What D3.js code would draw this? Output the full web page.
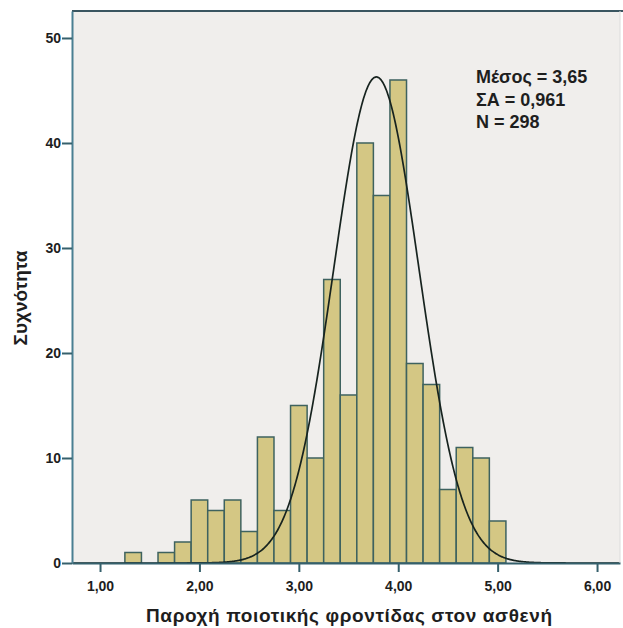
<!DOCTYPE html>
<html>
<head>
<meta charset="utf-8">
<script src="https://cdn.jsdelivr.net/npm/d3@7"></script>
<style>
  html, body { margin: 0; padding: 0; background: #ffffff; }
  svg { display: block; }
  text { font-family: "Liberation Sans", Arial, sans-serif; fill: #1e1e1e; }
</style>
</head>
<body>
<svg id="chart" width="623" height="628"></svg>
<script>
// ---- data ----
const binCenters = [1.3333, 1.5, 1.6667, 1.8333, 2.0, 2.1667, 2.3333, 2.5, 2.6667, 2.8333,
                    3.0, 3.1667, 3.3333, 3.5, 3.6667, 3.8333, 4.0, 4.1667, 4.3333, 4.5,
                    4.6667, 4.8333, 5.0];
const counts = [1, 0, 1, 2, 6, 5, 6, 3, 12, 5,
                15, 10, 27, 16, 40, 35, 46, 19, 17, 7,
                11, 10, 4];
const binWidth = 1 / 6;
const xTicks = [1, 2, 3, 4, 5, 6];
const xTickLabels = ["1,00", "2,00", "3,00", "4,00", "5,00", "6,00"];
const yTicks = [0, 10, 20, 30, 40, 50];
const statsLines = ["Μέσος = 3,65", "ΣΑ = 0,961", "N = 298"];
const curveMean = 3.78;   // normal curve as drawn
const curveSD = 0.428;
const curveN = 298;
const xTitle = "Παροχή ποιοτικής φροντίδας στον ασθενή";
const yTitle = "Συχνότητα";

// ---- layout ----
const svg = d3.select("#chart");
const L = 72, R = 620, T = 11, B = 563;

const x = d3.scaleLinear().domain([0.718, 6.231]).range([L, R]);
const y = d3.scaleLinear().domain([0, 52.57]).range([B, T]);

// plot background
svg.append("rect").attr("x", L).attr("y", T).attr("width", R - L).attr("height", B - T)
  .attr("fill", "#f0eeec");

// bars
const bins = binCenters.map((c, i) => ({ c, n: counts[i] })).filter(d => d.n > 0);
svg.append("g").selectAll("rect").data(bins).join("rect")
  .attr("x", d => x(d.c - binWidth / 2))
  .attr("width", d => x(d.c + binWidth / 2) - x(d.c - binWidth / 2))
  .attr("y", d => y(d.n))
  .attr("height", d => y(0) - y(d.n))
  .attr("fill", "#d4c784")
  .attr("stroke", "#3e625f")
  .attr("stroke-width", 1.5);

// normal curve
const pts = d3.range(0.72, 6.23, 0.01).map(v => {
  const z = (v - curveMean) / curveSD;
  return [v, curveN * binWidth * Math.exp(-0.5 * z * z) / (curveSD * Math.sqrt(2 * Math.PI))];
});
svg.append("path").datum(pts)
  .attr("fill", "none").attr("stroke", "#17231f").attr("stroke-width", 1.7)
  .attr("d", d3.line().x(d => x(d[0])).y(d => y(d[1])).curve(d3.curveBasis));

// frame (top and right)
svg.append("line").attr("x1", L).attr("x2", 623).attr("y1", T).attr("y2", T)
  .attr("stroke", "#3a5560").attr("stroke-width", 2);
svg.append("line").attr("x1", R).attr("x2", R).attr("y1", T).attr("y2", B)
  .attr("stroke", "#dcdcdc").attr("stroke-width", 1);

// axes
const xAxis = d3.axisBottom(x).tickValues(xTicks)
  .tickFormat((d, i) => xTickLabels[i]).tickSize(9).tickSizeOuter(0);
const gx = svg.append("g").attr("transform", `translate(0,${B})`).call(xAxis);
gx.select(".domain").attr("stroke", "#35606c").attr("stroke-width", 2.2);
gx.selectAll(".tick line").attr("stroke", "#35606c").attr("stroke-width", 2);
gx.selectAll(".tick text").attr("dy", "1.15em").attr("font-size", 14).attr("font-weight", "bold")
  .attr("font-family", "'Liberation Sans', Arial, sans-serif").attr("fill", "#3a3a3a");

const yAxis = d3.axisLeft(y).tickValues(yTicks).tickSize(10).tickSizeOuter(0);
const gy = svg.append("g").attr("transform", `translate(${L},0)`).call(yAxis);
gy.select(".domain").attr("stroke", "#4a7f92").attr("stroke-width", 2);
gy.selectAll(".tick line").attr("stroke", "#35606c").attr("stroke-width", 2);
gy.selectAll(".tick text").attr("x", -11).attr("font-size", 14).attr("font-weight", "bold")
  .attr("font-family", "'Liberation Sans', Arial, sans-serif").attr("fill", "#3a3a3a");

// titles
svg.append("text").attr("x", 349).attr("y", 622).attr("text-anchor", "middle")
  .attr("font-size", 19).attr("font-weight", "bold")
  .attr("textLength", 406).attr("lengthAdjust", "spacing").text(xTitle);
svg.append("text").attr("transform", "translate(27,298) rotate(-90)")
  .attr("text-anchor", "middle").attr("font-size", 19).attr("font-weight", "bold").text(yTitle);

// stats box
svg.append("g").selectAll("text").data(statsLines).join("text")
  .attr("x", 476).attr("y", (d, i) => 83 + i * 22.5)
  .attr("font-size", 18).attr("font-weight", "bold").attr("fill", "#333").text(d => d);
</script>
</body>
</html>
